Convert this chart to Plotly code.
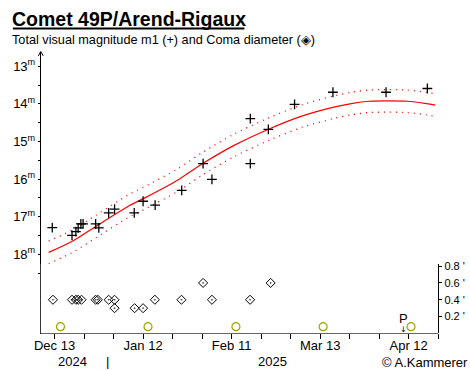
import plotly.graph_objects as go

W, H = 470, 370

# ---------------- data ----------------
mag_dates = [
    "2024-12-12 05:30", "2024-12-18 22:00", "2024-12-20 05:30", "2024-12-21 00:00",
    "2024-12-21 22:00", "2024-12-22 16:00", "2024-12-26 22:00", "2024-12-28 00:00",
    "2024-12-31 08:00", "2025-01-02 08:00", "2025-01-09 00:00", "2025-01-12 00:00",
    "2025-01-16 02:00", "2025-01-25 02:00", "2025-02-01 08:00", "2025-02-04 08:00",
    "2025-02-17 08:00", "2025-02-17 08:00", "2025-02-23 11:00", "2025-03-04 08:00",
    "2025-03-17 08:00", "2025-04-04 08:00", "2025-04-18 08:00",
]
mag_values = [
    17.29, 17.50, 17.40, 17.30,
    17.19, 17.19, 17.19, 17.30,
    16.90, 16.80, 16.90, 16.59,
    16.69, 16.30, 15.59, 16.01,
    15.59, 14.39, 14.68, 14.01,
    13.69, 13.69, 13.59,
]

coma_dates = [
    "2024-12-12 11:00", "2024-12-18 22:00", "2024-12-20 05:30", "2024-12-21 00:00",
    "2024-12-22 03:00", "2024-12-26 22:00", "2024-12-27 16:00", "2024-12-31 08:00",
    "2025-01-02 08:00", "2025-01-02 08:00", "2025-01-09 03:00", "2025-01-12 00:00",
    "2025-01-16 00:00", "2025-01-25 00:00", "2025-02-01 08:00", "2025-02-04 08:00",
    "2025-02-17 06:00", "2025-02-24 05:30",
]
coma_values = [
    0.4, 0.4, 0.4, 0.4,
    0.4, 0.4, 0.4, 0.4,
    0.4, 0.3, 0.3, 0.3,
    0.4, 0.4, 0.6, 0.4,
    0.4, 0.6,
]

fit_dates = [
    "2024-12-11 00:00", "2024-12-19 08:00", "2024-12-27 00:00", "2025-01-07 06:00",
    "2025-01-12 14:00", "2025-01-23 16:00", "2025-02-01 08:00", "2025-02-11 16:00",
    "2025-02-23 08:00", "2025-03-07 00:00", "2025-03-18 00:00", "2025-03-23 14:00",
    "2025-03-29 16:00", "2025-04-04 22:00", "2025-04-11 12:00", "2025-04-18 00:00",
    "2025-04-21 00:00",
]
fit_values = [
    17.95, 17.64, 17.26, 16.71,
    16.50, 16.03, 15.58, 15.11,
    14.68, 14.32, 14.08, 13.99,
    13.93, 13.92, 13.93, 13.99,
    14.03,
]
FIT_BAND = 0.30  # half width of the dotted band (mag)

moon_dates = ["2024-12-15 00:00", "2025-01-13 16:00", "2025-02-12 11:00",
              "2025-03-14 00:00", "2025-04-12 19:00"]
MOON_LEVEL = 0.08
perihelion_date = "2025-04-10 02:00"

x_tick_dates = [
    "2024-12-13", "2024-12-23", "2025-01-02", "2025-01-12", "2025-01-22",
    "2025-02-01", "2025-02-11", "2025-02-21", "2025-03-03", "2025-03-13",
    "2025-03-23", "2025-04-02", "2025-04-12", "2025-04-22",
]
x_tick_labels = ["Dec 13", "", "", "Jan 12", "", "", "Feb 11", "", "",
                 "Mar 13", "", "", "Apr 12", ""]
mag_ticks = [13, 13.5, 14, 14.5, 15, 15.5, 16, 16.5, 17, 17.5, 18, 18.5]
mag_tick_labels = ["13<sup>m</sup>", "", "14<sup>m</sup>", "", "15<sup>m</sup>", "",
                   "16<sup>m</sup>", "", "17<sup>m</sup>", "", "18<sup>m</sup>", ""]
coma_ticks = [0.2, 0.4, 0.6, 0.8]
coma_tick_labels = ["0.2 '", "0.4 '", "0.6 '", "0.8 '"]

# ---------------- layout geometry (pixels) ----------------
L, R, B, T = 34.3, 437.7, 333.0, 48.5
COMA_TOP = 262.7
MAG_RANGE = [13 + (B - 63) / 38.0, 13 + (T - 63) / 38.0]
COMA_RANGE = [0, (B - COMA_TOP) / 85.0]
X_RANGE = ["2024-12-08 08:00", "2025-04-22 00:00"]


def px(x):
    return x / W


def py(y):
    return 1 - y / H


FONT = "Liberation Sans, Arial, sans-serif"
RED = "#ff0000"

fig = go.Figure()

upper = [v - FIT_BAND for v in fit_values]
lower = [v + FIT_BAND for v in fit_values]
for band in (upper, lower):
    fig.add_trace(go.Scatter(x=fit_dates, y=band, mode="lines", yaxis="y",
                             line=dict(color=RED, width=1.3, dash="1px,5px", shape="spline", smoothing=0.8),
                             hoverinfo="skip", showlegend=False))
fig.add_trace(go.Scatter(x=fit_dates, y=fit_values, mode="lines", yaxis="y",
                         line=dict(color=RED, width=1.2, shape="spline", smoothing=0.8),
                         hoverinfo="skip", showlegend=False))
fig.add_trace(go.Scatter(x=mag_dates, y=mag_values, mode="markers", yaxis="y",
                         marker=dict(symbol="cross-thin", size=7, line=dict(color="black", width=1.3)),
                         hoverinfo="skip", showlegend=False))
fig.add_trace(go.Scatter(x=coma_dates, y=coma_values, mode="markers", yaxis="y2",
                         marker=dict(symbol="diamond-open-dot", size=7, color="black",
                                     line=dict(color="black", width=1)),
                         hoverinfo="skip", showlegend=False))
fig.add_trace(go.Scatter(x=moon_dates, y=[MOON_LEVEL] * len(moon_dates), mode="markers", yaxis="y2",
                         marker=dict(symbol="circle-open", size=8, color="#a0a000",
                                     line=dict(color="#a0a000", width=1.2)),
                         hoverinfo="skip", showlegend=False))

axis_common = dict(showgrid=False, zeroline=False, linecolor="black", linewidth=1,
                   tickcolor="black", tickwidth=1, tickfont=dict(family=FONT, size=13, color="black"))

fig.update_layout(
    autosize=True, margin=dict(l=0, r=0, t=0, b=0),
    paper_bgcolor="white", plot_bgcolor="white", hovermode=False,
    font=dict(family=FONT, color="black"),
    xaxis=dict(domain=[px(L), px(R)], range=X_RANGE, type="date", anchor="y",
               showline=True, ticks="outside", ticklen=5, ticklabelstandoff=-5,
               tickmode="array", tickvals=x_tick_dates, ticktext=x_tick_labels, **axis_common),
    yaxis=dict(domain=[py(B), py(T)], range=MAG_RANGE, anchor="x", side="left",
               showline=True, ticks="outside", ticklen=2,
               tickmode="array", tickvals=mag_ticks, ticktext=mag_tick_labels, **axis_common),
    yaxis3=dict(overlaying="y", range=MAG_RANGE, anchor="x", side="left", showline=False,
                ticks="inside", ticklen=3, tickmode="array", tickvals=mag_ticks,
                showticklabels=False, showgrid=False, zeroline=False, tickcolor="black"),
    yaxis2=dict(domain=[py(B), py(COMA_TOP)], range=COMA_RANGE, anchor="x", side="right",
                showline=True, ticks="outside", ticklen=3,
                tickmode="array", tickvals=coma_ticks, ticktext=coma_tick_labels,
                **{**axis_common, "tickfont": dict(family=FONT, size=11, color="black")}),
    yaxis4=dict(overlaying="y2", range=COMA_RANGE, anchor="x", side="right", showline=False,
                ticks="inside", ticklen=2, tickmode="array", tickvals=coma_ticks,
                showticklabels=False, showgrid=False, zeroline=False, tickcolor="black"),
)

annotations = [
    dict(text="<b>Comet 49P/Arend-Rigaux</b>", xref="paper", yref="paper", x=px(3), y=py(15),
         xanchor="left", yanchor="middle", showarrow=False, font=dict(family=FONT, size=19.5, color="black")),
    dict(text="Total visual magnitude m1 (+) and Coma diameter (◈)", xref="paper", yref="paper",
         x=px(3), y=py(36), xanchor="left", yanchor="middle", showarrow=False,
         font=dict(family=FONT, size=12.7, color="black")),
    dict(text="2024", xref="paper", yref="paper", x=px(66), y=py(361), xanchor="center", yanchor="middle",
         showarrow=False, font=dict(family=FONT, size=13, color="black")),
    dict(text="|", xref="paper", yref="paper", x=px(102.3), y=py(361), xanchor="center", yanchor="middle",
         showarrow=False, font=dict(family=FONT, size=13, color="black")),
    dict(text="2025", xref="paper", yref="paper", x=px(270), y=py(361), xanchor="center", yanchor="middle",
         showarrow=False, font=dict(family=FONT, size=13, color="black")),
    dict(text="© A.Kammerer", xref="paper", yref="paper", x=px(470), y=py(362), xanchor="right",
         yanchor="middle", showarrow=False, font=dict(family=FONT, size=13, color="black")),
    dict(text="P", xref="x", yref="y2", x=perihelion_date, y=0.18, xanchor="center", yanchor="middle",
         showarrow=False, font=dict(family=FONT, size=13, color="black")),
    dict(text="↓", xref="x", yref="y2", x=perihelion_date, y=0.05, xanchor="center", yanchor="middle",
         showarrow=False, font=dict(family="DejaVu Sans", size=8, color="black")),
]
fig.update_layout(annotations=annotations)

shapes = [
    # title underline
    dict(type="line", xref="paper", yref="paper", x0=px(6), x1=px(241), y0=py(24.8), y1=py(24.8),
         line=dict(color="black", width=2)),
    # arrow head on the magnitude axis
    dict(type="path", xref="paper", yref="paper",
         path=f"M {px(L-2.5)},{py(T+4)} L {px(L)},{py(T-0.5)} L {px(L+2.5)},{py(T+4)}",
         line=dict(color="black", width=1)),
]
fig.update_layout(shapes=shapes)

# the plot div is pinned to the top-left corner of the window, independent of the body margin
fig.write_html("out.html", include_plotlyjs=True,
               config={"displayModeBar": False, "staticPlot": True},
               default_width=f"{W}px; position:absolute; left:0px; top:0px",
               default_height=f"{H}px")
